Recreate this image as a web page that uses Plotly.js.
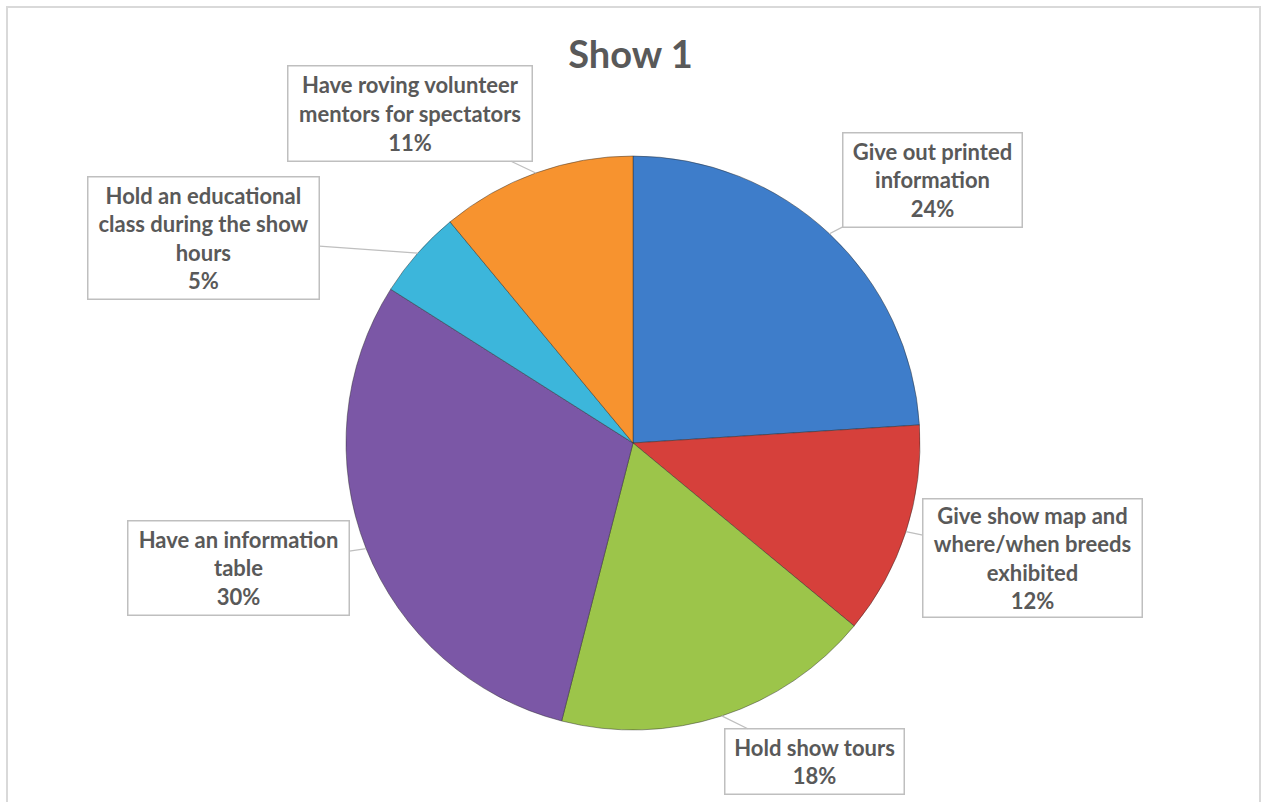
<!DOCTYPE html>
<html>
<head>
<meta charset="utf-8">
<script src="https://cdn.plot.ly/plotly-3.0.1.min.js"></script>
<style>html,body{margin:0;padding:0;background:#fff;}#chart{width:1261px;height:802px;}</style>
</head>
<body>
<div id="chart"></div>
<script>
// Data
const categories = [
  "Give out printed information",
  "Give show map and where/when breeds exhibited",
  "Hold show tours",
  "Have an information table",
  "Hold an educational class during the show hours",
  "Have roving volunteer mentors for spectators"
];
const values = [24, 12, 18, 30, 5, 11];
const labelText = [
  "Give out printed<br>information",
  "Give show map and<br>where/when breeds<br>exhibited",
  "Hold show tours",
  "Have an information<br>table",
  "Hold an educational<br>class during the show<br>hours",
  "Have roving volunteer<br>mentors for spectators"
];
const colors = ["#3E7DCA", "#D6403B", "#9CC54A", "#7B57A6", "#3CB6DB", "#F7932F"];

// Layout geometry (pixels)
const W = 1261, H = 802;
const cx = 633, cy = 443, R = 287;
// label box centers and sizes [cx, cy, w, h]
const boxes = [
  [932.5, 180, 181, 96],
  [1032.5, 558, 221, 120],
  [814.5, 761.5, 181, 67],
  [238.5, 568, 223, 96],
  [203.5, 238, 233, 124],
  [410, 113.5, 246, 97]
];

const total = values.reduce((a, b) => a + b, 0);
let cum = 0;
const annotations = [];
values.forEach((v, i) => {
  const mid = (cum + v / 2) / total * 2 * Math.PI;
  cum += v;
  const tx = cx + R * Math.sin(mid);
  const ty = cy - R * Math.cos(mid);
  const b = boxes[i];
  annotations.push({
    xref: "paper", yref: "paper",
    x: tx / W, y: 1 - ty / H,
    ax: b[0] - tx, ay: b[1] - ty,
    axref: "pixel", ayref: "pixel",
    text: labelText[i] + "<br>" + Math.round(v / total * 100) + "%",
    showarrow: true, arrowhead: 0, arrowwidth: 1.3, arrowcolor: "#BFBFBF", standoff: 0,
    bordercolor: "#BFBFBF", borderwidth: 1.5, borderpad: 0, bgcolor: "#FFFFFF",
    width: b[2] - 3, height: b[3] - 3,
    align: "center", valign: "middle",
    font: {family: "Lato, 'Open Sans', sans-serif", size: 22, color: "#595959", weight: "bold"}
  });
});

const trace = {
  type: "pie",
  labels: categories,
  values: values,
  sort: false,
  direction: "clockwise",
  rotation: 0,
  textinfo: "none",
  hoverinfo: "label+percent",
  marker: {colors: colors, line: {color: "rgba(40,40,40,0.45)", width: 1}},
  domain: {x: [(cx - R) / W, (cx + R) / W], y: [1 - (cy + R) / H, 1 - (cy - R) / H]},
  showlegend: false
};

const layout = {
  width: W, height: H,
  margin: {l: 0, r: 0, t: 0, b: 0},
  paper_bgcolor: "#FFFFFF",
  title: {
    text: "<b>Show 1</b>",
    x: 0.5, xanchor: "center", y: 1 - 55 / H, yanchor: "middle",
    font: {family: "Lato, 'Open Sans', sans-serif", size: 38, color: "#595959"}
  },
  annotations: annotations,
  shapes: [{
    type: "rect", xref: "paper", yref: "paper",
    x0: 7 / W, x1: 1260 / W, y0: -0.05, y1: 1 - 7 / H,
    line: {color: "#D9D9D9", width: 2}
  }],
  showlegend: false
};

Plotly.newPlot("chart", [trace], layout, {displayModeBar: false, staticPlot: true});
</script>
</body>
</html>
